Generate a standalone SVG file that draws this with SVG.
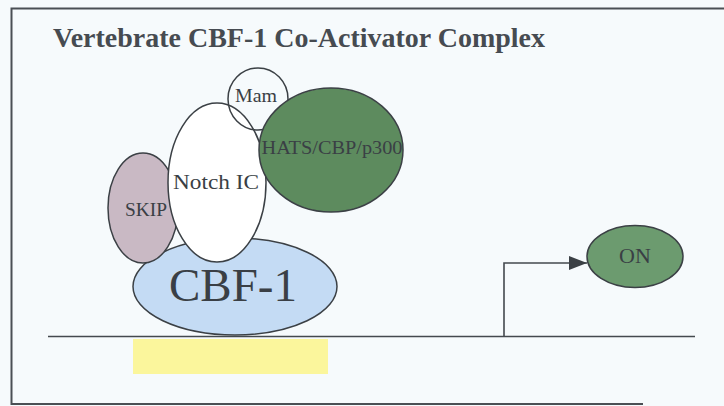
<svg xmlns="http://www.w3.org/2000/svg" width="724" height="406" viewBox="0 0 724 406">
  <style>
    .shape { stroke: #3b4045; stroke-width: 1.5; }
    .lbl { font-family: "Liberation Serif", "Times New Roman", serif; fill: #3a3f45; text-anchor: middle; }
    .title { font-family: "Liberation Serif", "Times New Roman", serif; fill: #464b51; font-weight: bold; text-anchor: start; }
    .line { stroke: #44494e; stroke-width: 1.6; fill: none; }
  </style>
  <defs>
    <marker id="arrowhead" viewBox="0 0 18 14" refX="18" refY="7" markerWidth="18" markerHeight="14" markerUnits="userSpaceOnUse" orient="auto">
      <path d="M0,0 L18,7 L0,14 Z" fill="#3b4045"/>
    </marker>
  </defs>

  <!-- background and frame -->
  <rect x="0" y="0" width="724" height="406" fill="#f6fafc"/>
  <path d="M643,404 H11.5 V8.5 H724" fill="none" stroke="#4a4f54" stroke-width="2"/>

  <text class="title" x="53" y="47" font-size="27" textLength="492" lengthAdjust="spacingAndGlyphs">Vertebrate CBF-1 Co-Activator Complex</text>

  <!-- DNA strand and binding site -->
  <g id="dna">
    <rect x="133" y="339" width="195" height="35" fill="#fbf69c"/>
    <line class="line" x1="48" y1="336.5" x2="695" y2="336.5"/>
  </g>

  <g id="cbf1">
    <ellipse class="shape" cx="235" cy="286.5" rx="102" ry="48.5" fill="#c4dbf4"/>
    <text class="lbl" x="233" y="301" font-size="47">CBF-1</text>
  </g>

  <g id="skip">
    <ellipse class="shape" cx="143" cy="208" rx="35" ry="55" fill="#c9b9c4"/>
    <text class="lbl" x="146" y="216" font-size="19" textLength="42" lengthAdjust="spacingAndGlyphs">SKIP</text>
  </g>

  <g id="notch-ic">
    <ellipse class="shape" cx="217" cy="182.5" rx="49" ry="79.5" fill="#ffffff"/>
    <text class="lbl" x="216" y="189" font-size="22" textLength="86" lengthAdjust="spacingAndGlyphs">Notch IC</text>
  </g>

  <g id="mam">
    <ellipse class="shape" cx="258" cy="99" rx="30" ry="31" fill="none"/>
    <text class="lbl" x="256" y="102" font-size="18" textLength="42" lengthAdjust="spacingAndGlyphs">Mam</text>
  </g>

  <g id="hats">
    <ellipse class="shape" cx="331" cy="150" rx="72" ry="62" fill="#5d8b5e"/>
    <text class="lbl" x="332" y="154" font-size="18" textLength="141" lengthAdjust="spacingAndGlyphs" fill="#2e3d31">HATS/CBP/p300</text>
  </g>

  <g id="on">
    <ellipse class="shape" cx="635" cy="256.5" rx="48" ry="31" fill="#6c9b6f"/>
    <text class="lbl" x="635" y="263" font-size="22" fill="#33433a">ON</text>
  </g>

  <!-- transcription start arrow -->
  <g id="connectors">
    <path class="line" d="M504,337 V263 H587" marker-end="url(#arrowhead)"/>
  </g>
</svg>
